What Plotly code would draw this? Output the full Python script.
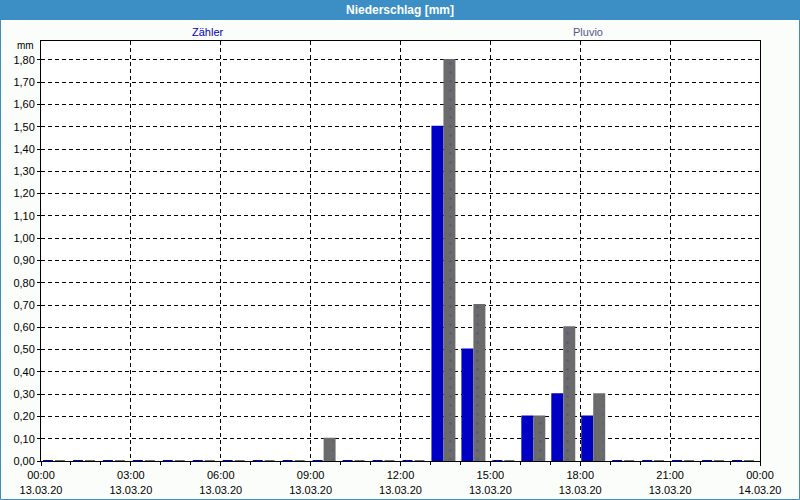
import plotly.graph_objects as go
import pandas as pd

hours = pd.date_range("2020-03-13 00:00", periods=24, freq="h")
zaehler = [0, 0, 0, 0, 0, 0, 0, 0, 0, 0, 0, 0, 0, 1.50, 0.50, 0, 0.20, 0.30, 0.20, 0, 0, 0, 0, 0]
pluvio = [0, 0, 0, 0, 0, 0, 0, 0, 0, 0.10, 0, 0, 0, 1.80, 0.70, 0, 0.20, 0.60, 0.30, 0, 0, 0, 0, 0]
yticks = [round(i * 0.1, 2) for i in range(19)]

W, H = 800, 500
ML, MR, MT, MB = 41, 40, 41, 39
PW, PH = W - ML - MR, H - MT - MB

def px(x):
    return (x - ML) / PW

def py(y):
    return (H - MB - y) / PH

MIN = 60000
BLUE = "#0000c4"
GRAY = "#6b6b6b"

fig = go.Figure()
fig.add_trace(go.Bar(
    x=hours, y=zaehler, name="Zähler",
    offset=4 * MIN, width=20 * MIN,
    marker=dict(color=BLUE, line=dict(color=BLUE, width=2)),
))
fig.add_trace(go.Bar(
    x=hours, y=pluvio, name="Pluvio",
    offset=28 * MIN, width=20 * MIN,
    marker=dict(color=GRAY, line=dict(color=GRAY, width=2),
                pattern=dict(shape=".", fgcolor="#4a4a90", bgcolor=GRAY, size=9, solidity=0.08)),
))

font = "Liberation Sans, Arial, sans-serif"
fig.update_layout(
    width=W, height=H,
    margin=dict(l=ML, r=MR, t=MT, b=MB),
    paper_bgcolor="#fbfdfb", plot_bgcolor="#ffffff",
    barmode="overlay", showlegend=False,
    separators=",.",
    font=dict(family=font, size=11, color="#000000"),
    xaxis=dict(
        type="date", automargin=False,
        range=["2020-03-13 00:00", "2020-03-14 00:00"],
        dtick=3 * 3600000, tick0="2020-03-13 00:00",
        tickformat="%H:%M<br>%d.%m.%y",
        ticks="outside", ticklen=4, tickcolor="#000", tickwidth=1,
        minor=dict(dtick=3600000, ticks="outside", ticklen=3, tickcolor="#000", showgrid=False),
        showline=True, linecolor="#000", linewidth=1, mirror=True,
        showgrid=True, gridcolor="#000", griddash="4px,3px", gridwidth=1,
        zeroline=False, fixedrange=True,
        tickfont=dict(size=11, family=font),
    ),
    yaxis=dict(
        automargin=False,
        range=[0, 1.885],
        tickvals=yticks, tickformat=".2f",
        ticks="outside", ticklen=3, tickcolor="#000",
        showline=True, linecolor="#000", linewidth=1, mirror=True,
        showgrid=True, gridcolor="#000", griddash="4px,3px", gridwidth=1,
        zeroline=False,
        tickfont=dict(size=11, family=font),
    ),
)

shapes = [
    dict(type="rect", xref="paper", yref="paper", x0=px(0), x1=px(W), y0=py(20), y1=py(0),
         fillcolor="#3c8fc5", line=dict(width=0), layer="below"),
    dict(type="rect", xref="paper", yref="paper", x0=px(0.5), x1=px(W - 0.5), y0=py(H - 0.5), y1=py(0.5),
         fillcolor="rgba(0,0,0,0)", line=dict(color="#3c8fc5", width=1), layer="above"),
]
fig.update_layout(shapes=shapes)

fig.add_annotation(text="<b>Niederschlag [mm]</b>", xref="paper", yref="paper", x=px(400), y=py(10),
                   showarrow=False, font=dict(color="#ffffff", size=12, family=font), xanchor="center", yanchor="middle")
fig.add_annotation(text="Zähler", xref="paper", yref="paper", x=px(208), y=py(32),
                   showarrow=False, font=dict(color="#0000c0", size=11, family=font), xanchor="center", yanchor="middle")
fig.add_annotation(text="Pluvio", xref="paper", yref="paper", x=px(588), y=py(32),
                   showarrow=False, font=dict(color="#55558a", size=11, family=font), xanchor="center", yanchor="middle")
fig.add_annotation(text="mm", xref="paper", yref="paper", x=px(36), y=py(46),
                   showarrow=False, font=dict(color="#000", size=10, family=font), xanchor="right", yanchor="middle")

fig.write_html("out.html")
